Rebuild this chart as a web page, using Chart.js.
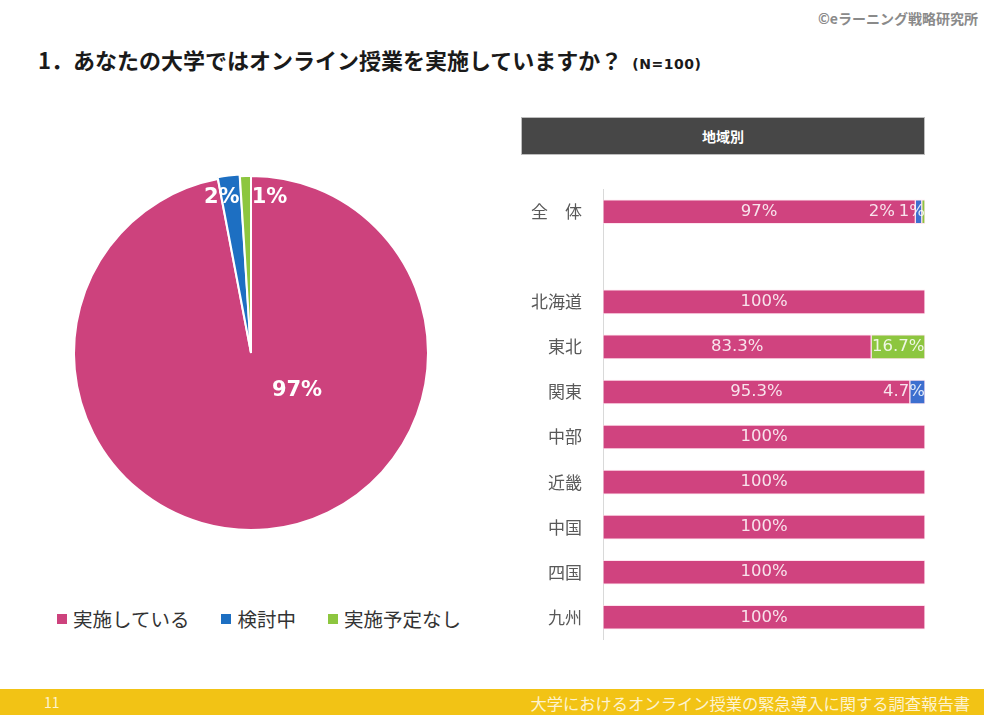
<!DOCTYPE html>
<html lang="ja">
<head>
<meta charset="utf-8">
<title>オンライン授業の実施状況</title>
<script src="https://cdn.jsdelivr.net/npm/chart.js@4.4.1/dist/chart.umd.min.js"></script>
<style>
  html, body {
    margin: 0;
    padding: 0;
    background: #ffffff;
    font-family: "Noto Sans CJK JP", "Noto Sans", sans-serif;
  }
  .page {
    position: relative;
    width: 984px;
    height: 715px;
    overflow: hidden;
  }
  .copyright {
    position: absolute;
    right: 6px;
    top: 8px;
    font-size: 14px;
    font-weight: bold;
    color: #8a8a8a;
  }
  .title {
    position: absolute;
    left: 38px;
    top: 43px;
    font-size: 22px;
    font-weight: bold;
    color: #1a1a1a;
    white-space: nowrap;
  }
  .title small {
    font-family: "DejaVu Sans", sans-serif;
    font-size: 14px;
    margin-left: 10px;
    letter-spacing: 0.5px;
  }
  .pie-wrap {
    position: absolute;
    left: 63px;
    top: 165px;
    width: 376px;
    height: 376px;
  }
  .legend {
    position: absolute;
    left: 57px;
    top: 604px;
    display: flex;
    gap: 32px;
    font-size: 19.5px;
    color: #333333;
  }
  .legend-item {
    display: flex;
    align-items: center;
  }
  .legend-color {
    width: 10px;
    height: 10px;
    margin-right: 6px;
  }
  .region-header {
    position: absolute;
    left: 521px;
    top: 117px;
    width: 404px;
    height: 38px;
    background: #474747;
    border: 1px solid #bdbdbd;
    box-sizing: border-box;
    color: #ffffff;
    font-size: 14px;
    font-weight: bold;
    text-align: center;
    line-height: 36px;
  }
  .bar-wrap {
    position: absolute;
    left: 510px;
    top: 158px;
    width: 415px;
    height: 513px;
  }
  .footer {
    position: absolute;
    left: 0;
    top: 689px;
    width: 984px;
    height: 26px;
    background: #f2c315;
    color: #fdf3d0;
    font-size: 16.3px;
  }
  .footer .page-no {
    position: absolute;
    left: 44px;
    top: 3px;
    font-size: 14px;
  }
  .footer .doc-title {
    position: absolute;
    right: 14px;
    top: 2px;
  }
</style>
</head>
<body>
<div class="page">
  <div class="copyright">©eラーニング戦略研究所</div>
  <div class="title">1．あなたの大学ではオンライン授業を実施していますか？<small>(N=100)</small></div>

  <div class="pie-wrap"><canvas id="pie-chart"></canvas></div>
  <div class="legend" id="pie-legend"></div>

  <div class="region-header">地域別</div>
  <div class="bar-wrap"><canvas id="region-chart"></canvas></div>

  <div class="footer">
    <span class="page-no">11</span>
    <span class="doc-title">大学におけるオンライン授業の緊急導入に関する調査報告書</span>
  </div>
</div>

<script>
// answer categories
const ANSWERS = ["実施している", "検討中", "実施予定なし"];
const PIE_COLORS = ["#cd427d", "#1d6fc2", "#8dc63f"];
const BAR_COLORS = ["#d0437f", "#3d6fcf", "#8dc63f"];

// overall share (%)
const overallValues = [97, 2, 1];

// by region (%), blank row separates the total from the regions
const regions = ["全　体", "", "北海道", "東北", "関東", "中部", "近畿", "中国", "四国", "九州"];
const implementing = [97, null, 100, 83.3, 95.3, 100, 100, 100, 100, 100];
const considering = [2, null, 0, 0, 4.7, 0, 0, 0, 0, 0];
const notPlanned = [1, null, 0, 16.7, 0, 0, 0, 0, 0, 0];

const FONT_CJK = '"Noto Sans CJK JP", "Noto Sans", sans-serif';

// where each pie label sits, as fractions of the radius from the centre
const PIE_LABEL_POS = [
  { dx: 0.26, dy: 0.21 },
  { dx: -0.165, dy: -0.88 },
  { dx: 0.105, dy: -0.88 },
];

const pieLabelPlugin = {
  id: "pieLabels",
  afterDatasetsDraw(chart) {
    const ctx = chart.ctx;
    const meta = chart.getDatasetMeta(0);
    const arc = meta.data[0];
    const cx = arc.x;
    const cy = arc.y;
    const r = arc.outerRadius;
    ctx.save();
    ctx.fillStyle = "#ffffff";
    ctx.font = 'bold 21px "DejaVu Sans", sans-serif';
    ctx.textAlign = "center";
    ctx.textBaseline = "middle";
    chart.data.datasets[0].data.forEach((value, i) => {
      const pos = PIE_LABEL_POS[i];
      ctx.fillText(`${value}%`, cx + pos.dx * r, cy + pos.dy * r);
    });
    ctx.restore();
  },
};

new Chart(document.getElementById("pie-chart"), {
  type: "pie",
  data: {
    labels: ANSWERS,
    datasets: [
      {
        data: overallValues,
        backgroundColor: PIE_COLORS,
        borderColor: "#ffffff",
        borderWidth: 2,
        offset: [0, 4, 0],
      },
    ],
  },
  options: {
    responsive: true,
    maintainAspectRatio: false,
    animation: false,
    layout: { padding: 8 },
    plugins: {
      legend: { display: false },
      tooltip: { enabled: false },
    },
  },
  plugins: [pieLabelPlugin],
});

// custom legend under the pie
document.getElementById("pie-legend").innerHTML = ANSWERS.map(
  (name, i) => `
    <div class="legend-item">
      <div class="legend-color" style="background-color: ${PIE_COLORS[i]}"></div>
      <span>${name}</span>
    </div>`
).join("");

// value labels inside the stacked bars; narrow segments get pushed
// to the right end of the bar, stacking leftwards
const barLabelPlugin = {
  id: "barLabels",
  afterDatasetsDraw(chart) {
    const ctx = chart.ctx;
    const sets = chart.data.datasets;
    ctx.save();
    ctx.font = '16.5px "DejaVu Sans", sans-serif';
    ctx.fillStyle = "rgba(255, 255, 255, 0.85)";
    ctx.textBaseline = "middle";
    chart.data.labels.forEach((_, idx) => {
      let cursor = null;
      for (let d = sets.length - 1; d >= 0; d--) {
        const value = sets[d].data[idx];
        if (!value) continue;
        const bar = chart.getDatasetMeta(d).data[idx];
        const text = `${value}%`;
        const tw = ctx.measureText(text).width;
        const segWidth = bar.x - bar.base;
        if (cursor === null) cursor = bar.x;
        if (tw <= segWidth + 2) {
          ctx.textAlign = "center";
          ctx.fillText(text, (bar.x + bar.base) / 2, bar.y);
        } else {
          ctx.textAlign = "right";
          ctx.fillText(text, cursor, bar.y);
          cursor -= tw + 4;
        }
      }
    });
    ctx.restore();
  },
};

const seriesValues = [implementing, considering, notPlanned];

new Chart(document.getElementById("region-chart"), {
  type: "bar",
  data: {
    labels: regions,
    datasets: ANSWERS.map((name, i) => ({
      label: name,
      data: seriesValues[i],
      backgroundColor: BAR_COLORS[i],
      borderColor: "rgba(255, 210, 228, 0.6)",
      borderWidth: 1,
      borderSkipped: false,
      barThickness: 24,
    })),
  },
  options: {
    indexAxis: "y",
    responsive: true,
    maintainAspectRatio: false,
    animation: false,
    layout: { padding: 0 },
    plugins: {
      legend: { display: false },
      tooltip: { enabled: false },
    },
    scales: {
      x: {
        stacked: true,
        min: 0,
        max: 100,
        display: false,
      },
      y: {
        stacked: true,
        grid: { display: false, drawTicks: false },
        border: { display: true, color: "#d9d9d9", width: 1 },
        ticks: {
          padding: 21,
          color: "#595959",
          font: { family: FONT_CJK, size: 17 },
        },
        afterFit(scale) {
          scale.width = 93;
        },
      },
    },
  },
  plugins: [barLabelPlugin],
});
</script>
</body>
</html>
